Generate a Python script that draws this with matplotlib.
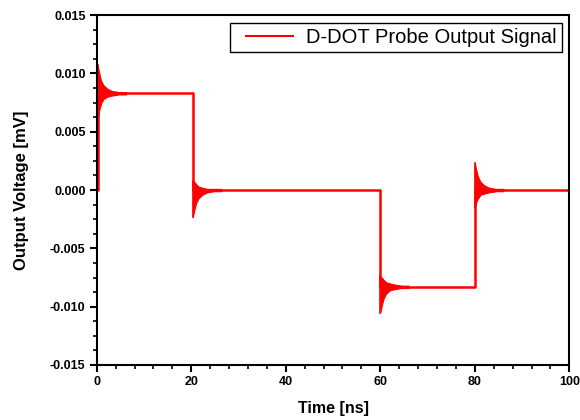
import matplotlib
matplotlib.use("Agg")
import matplotlib.pyplot as plt
from matplotlib.ticker import MultipleLocator, FormatStrFormatter
import numpy as np

plt.rcParams['font.family'] = ['Liberation Sans', 'DejaVu Sans']
plt.rcParams['axes.unicode_minus'] = False

# step waveform (ns, mV)
step_t = [0.0, 0.2, 0.2, 20.35, 20.35, 60.0, 60.0, 80.0, 80.0, 100.0]
step_v = [0.0, 0.0, 0.0083, 0.0083, 0.0, 0.0, -0.0083, -0.0083, 0.0, 0.0]

# ringing envelopes after each edge
edge_t = [0.2, 20.35, 60.0, 80.0]
ring_dt = [0.0, 0.3, 0.7, 1.2, 2.0, 3.0, 4.5, 6.0]
ring_hi = [
    [0.0107, 0.0101, 0.0094, 0.0090, 0.0087, 0.0085, 0.0084, 0.0084],
    [0.0008, 0.0007, 0.0005, 0.0003, 0.0002, 0.0001, 0.0001, 0.0001],
    [-0.0074, -0.0075, -0.0077, -0.0079, -0.0080, -0.0081, -0.0082, -0.0082],
    [0.0023, 0.0017, 0.0011, 0.0007, 0.0004, 0.0002, 0.0001, 0.0001],
]
ring_lo = [
    [0.0062, 0.0068, 0.0074, 0.0078, 0.0080, 0.0081, 0.0082, 0.0082],
    [-0.0023, -0.0017, -0.0011, -0.0007, -0.0004, -0.0002, -0.0001, -0.0001],
    [-0.0105, -0.0099, -0.0093, -0.0089, -0.0086, -0.0085, -0.0084, -0.0084],
    [-0.0015, -0.0010, -0.0007, -0.0004, -0.0003, -0.0002, -0.0001, -0.0001],
]

red = '#ff0000'
fig = plt.figure(figsize=(5.8, 4.2), dpi=100)
ax = fig.add_axes([0.1667, 0.131, 0.8150, 0.833])

ax.plot(step_t, step_v, color=red, lw=1.8, label='D-DOT Probe Output Signal')
for t0, hi, lo in zip(edge_t, ring_hi, ring_lo):
    tt = t0 + np.array(ring_dt)
    ax.fill_between(tt, lo, hi, color=red, lw=0.8, edgecolor=red)
    ax.plot([t0, t0], [lo[0], hi[0]], color=red, lw=1.2)

ax.set_xlim(0, 100)
ax.set_ylim(-0.015, 0.015)
ax.xaxis.set_major_locator(MultipleLocator(20))
ax.xaxis.set_minor_locator(MultipleLocator(4))
ax.yaxis.set_major_locator(MultipleLocator(0.005))
ax.yaxis.set_minor_locator(MultipleLocator(0.00125))
ax.yaxis.set_major_formatter(FormatStrFormatter('%.3f'))

for s in ax.spines.values():
    s.set_linewidth(1.5)
ax.tick_params(which='major', direction='out', length=5, width=1.5, labelsize=9, pad=3)
ax.tick_params(which='minor', direction='out', length=3, width=1.2)
for lab in ax.get_xticklabels() + ax.get_yticklabels():
    lab.set_fontweight('bold')

ax.set_xlabel('Time [ns]', fontsize=11.5, fontweight='bold', labelpad=9)
ax.set_ylabel('Output Voltage [mV]', fontsize=12, fontweight='bold', labelpad=15)

leg = ax.legend(loc='upper right', fontsize=14.5, fancybox=False, framealpha=1,
                edgecolor='black', borderpad=0.25, handlelength=3.2,
                handletextpad=0.35, borderaxespad=0.38)
leg.get_frame().set_linewidth(1.0)
legline = leg.get_lines()[0]
legline.set_linewidth(1.5)
xd = legline.get_xdata()
yd = legline.get_ydata()
legline.set_data([xd[0] + 8, xd[-1] - 4], [yd[0], yd[-1]])

fig.savefig('out.png', dpi=100)
